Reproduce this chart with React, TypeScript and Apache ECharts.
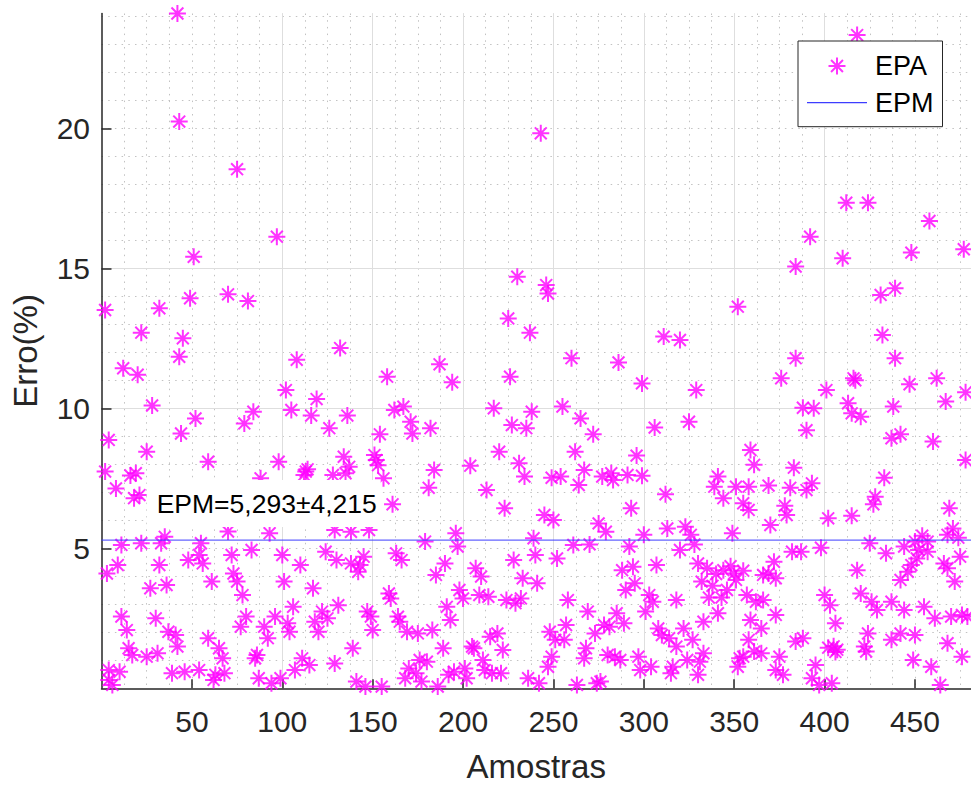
import { useEffect, useRef } from "react";
import * as echarts from "echarts";

// Axis extents and tick labels
const X_MAX = 481;
const Y_MAX = 24.1;
const X_TICKS = [50, 100, 150, 200, 250, 300, 350, 400, 450];
const Y_TICKS = [5, 10, 15, 20];

// Mean percentage error (EPM) and its standard deviation
const EPM_MEDIA = 5.293;
const EPM_DESVIO = 4.215;

// Percentage error per sample (EPA): [sample, error %]
const epa1a50: [number, number][] = [
  [2, 13.51], [2, 7.74], [3, 4.1], [4, 8.87], [4, 0.65], [4, 0.3], [6, 0.12], [8, 7.14], [9, 4.4], [10, 0.59],
  [11, 5.12], [11, 2.56], [12, 11.43], [14, 2.08], [15, 1.43], [16, 7.6], [17, 1.19], [18, 6.79], [19, 7.68], [20, 11.2],
  [21, 6.9], [22, 5.18], [22, 12.7], [25, 8.45], [25, 1.13], [27, 3.57], [28, 10.1], [30, 2.5], [31, 1.25], [32, 13.57],
  [32, 4.4], [33, 5.18], [35, 5.41], [36, 3.69], [37, 2.02], [39, 0.54], [41, 1.9], [42, 1.49], [42, 24.1], [43, 20.24],
  [43, 11.84], [44, 9.1], [45, 12.5], [46, 0.59], [48, 4.58], [49, 13.93],
];
const epa51a100: [number, number][] = [
  [51, 15.41], [52, 9.64], [54, 4.76], [54, 0.65], [55, 5.18], [56, 4.46], [59, 8.09], [59, 1.79], [61, 3.81], [62, 0.3],
  [63, 0.48], [65, 1.43], [67, 1.07], [68, 0.54], [70, 14.07], [70, 5.6], [72, 4.76], [73, 4.1], [75, 3.81], [75, 18.54],
  [77, 2.2], [78, 3.33], [79, 9.46], [80, 2.56], [81, 13.83], [83, 4.94], [84, 9.88], [85, 1.07], [86, 1.19], [87, 0.36],
  [88, 7.5], [90, 2.2], [92, 1.79], [93, 5.54], [94, 0.18], [96, 2.56], [97, 16.13], [98, 8.09], [99, 0.36], [100, 4.76],
];
const epa101a150: [number, number][] = [
  [101, 3.81], [102, 10.65], [103, 2.32], [104, 2.02], [105, 9.94], [106, 2.91], [107, 0.65], [108, 11.73], [110, 4.4], [111, 1.07],
  [112, 7.62], [113, 7.74], [114, 7.82], [115, 0.83], [116, 9.74], [117, 3.57], [118, 2.38], [119, 10.33], [120, 2.02], [122, 2.74],
  [124, 4.88], [125, 2.5], [126, 9.29], [128, 7.62], [129, 5.65], [129, 0.89], [130, 4.58], [131, 2.97], [132, 12.15], [134, 8.27],
  [135, 7.68], [136, 9.74], [137, 7.91], [138, 4.46], [138, 5.59], [139, 1.43], [141, 0.24], [142, 4.16], [143, 4.4], [145, 4.7],
  [146, 0.06], [147, 2.74], [148, 5.65], [149, 2.56], [150, 2.08],
];
const epa151a200: [number, number][] = [
  [151, 8.33], [152, 8.15], [153, 7.97], [154, 9.07], [155, 0.06], [156, 7.5], [158, 11.13], [159, 3.39], [160, 3.21], [161, 6.57],
  [162, 9.94], [163, 4.82], [164, 2.56], [165, 2.38], [166, 4.58], [167, 10.06], [168, 0.36], [169, 2.02], [170, 0.71], [171, 9.52],
  [172, 9.1], [174, 0.54], [175, 1.96], [176, 1.01], [177, 0.24], [179, 5.24], [180, 0.95], [181, 7.16], [182, 9.29], [183, 2.08],
  [184, 7.8], [185, 4.05], [186, 0.06], [187, 11.57], [189, 1.43], [190, 4.46], [191, 2.91], [192, 0.48], [193, 2.44], [194, 10.93],
  [195, 0.59], [196, 5.54], [197, 5.06], [198, 3.51], [200, 3.21],
];
const epa201a250: [number, number][] = [
  [201, 0.71], [202, 0.36], [204, 7.95], [205, 1.49], [206, 1.43], [207, 4.29], [209, 3.33], [210, 3.99], [211, 1.01], [212, 0.65],
  [213, 7.08], [214, 3.27], [215, 1.84], [216, 0.54], [217, 10.0], [219, 1.96], [220, 8.45], [221, 0.54], [222, 1.37], [223, 6.43],
  [224, 3.15], [225, 13.21], [226, 11.13], [227, 9.4], [228, 4.58], [229, 3.04], [230, 14.7], [231, 8.04], [232, 3.21], [233, 3.93],
  [234, 7.56], [235, 9.29], [236, 0.36], [237, 12.7], [238, 9.88], [239, 5.36], [240, 4.76], [241, 3.75], [242, 0.18], [243, 19.82],
  [245, 6.19], [246, 14.4], [247, 14.1], [247, 0.77], [248, 2.02], [249, 7.52], [249, 1.13], [250, 6.01],
];
const epa251a300: [number, number][] = [
  [251, 1.73], [252, 4.64], [254, 7.56], [255, 10.06], [256, 1.73], [257, 2.26], [258, 3.15], [260, 11.79], [261, 5.12], [262, 8.45],
  [263, 0.12], [264, 7.26], [265, 9.64], [267, 7.8], [267, 1.07], [268, 1.43], [269, 2.74], [270, 5.14], [272, 9.07], [273, 1.96],
  [274, 0.18], [275, 5.89], [276, 0.24], [277, 7.56], [278, 2.26], [279, 5.59], [280, 1.19], [281, 2.2], [282, 7.68], [283, 7.44],
  [284, 1.13], [285, 2.68], [286, 11.64], [287, 1.01], [288, 4.22], [289, 2.32], [290, 3.51], [291, 7.62], [292, 5.06], [293, 6.43],
  [294, 4.34], [295, 3.75], [296, 8.31], [297, 1.13], [298, 0.65], [299, 10.89], [299, 7.59], [300, 5.48],
];
const epa301a360: [number, number][] = [
  [301, 2.74], [303, 3.33], [304, 0.77], [305, 3.09], [306, 9.31], [307, 4.4], [308, 2.14], [310, 1.9], [311, 12.56], [312, 6.93],
  [313, 5.71], [314, 1.79], [315, 0.54], [316, 0.77], [318, 3.15], [318, 1.49], [320, 4.94], [320, 12.44], [322, 2.14], [323, 5.77],
  [324, 1.01], [325, 9.52], [326, 5.48], [327, 1.73], [328, 5.14], [329, 10.65], [330, 4.46], [330, 0.48], [331, 0.95], [332, 3.81],
  [333, 2.38], [333, 1.25], [335, 4.29], [336, 3.24], [338, 3.66], [339, 7.2], [340, 4.08], [341, 7.56], [341, 2.68], [343, 3.24],
  [344, 6.79], [344, 4.22], [346, 3.51], [348, 4.36], [349, 5.54], [350, 4.1], [351, 3.87], [351, 7.2], [352, 13.63], [352, 0.77],
  [353, 1.07], [355, 6.61], [355, 4.2], [355, 1.13], [357, 3.33], [358, 7.2], [358, 6.37], [358, 1.73], [359, 2.44], [359, 8.51],
  [361, 7.98], [361, 1.31],
];
const epa361a420: [number, number][] = [
  [362, 3.09], [365, 2.14], [365, 1.25], [366, 3.15], [366, 4.05], [369, 7.24], [369, 4.1], [370, 5.83], [372, 4.52], [373, 3.93],
  [373, 2.62], [373, 0.65], [375, 1.13], [376, 11.07], [377, 0.48], [378, 6.52], [379, 6.19], [381, 7.16], [382, 4.88], [383, 7.88],
  [384, 11.79], [384, 15.06], [384, 1.67], [387, 4.88], [388, 1.79], [388, 10.02], [390, 7.08], [390, 9.22], [392, 16.13], [393, 7.32],
  [393, 0.36], [394, 10.0], [395, 0.83], [397, 0.12], [398, 5.02], [400, 3.33], [401, 10.65], [402, 6.07], [402, 1.45], [403, 2.97],
  [404, 0.18], [405, 1.5], [406, 1.3], [406, 2.32], [407, 1.38], [410, 15.36], [412, 17.34], [413, 10.18], [415, 9.82], [415, 6.16],
  [416, 11.07], [417, 11.0], [418, 4.22], [418, 23.33], [420, 3.39],
];
const epa421a481: [number, number][] = [
  [420, 9.7], [422, 1.49], [423, 1.31], [424, 17.34], [424, 1.96], [425, 5.18], [426, 3.09], [427, 6.57], [428, 6.84], [429, 2.8],
  [431, 14.05], [432, 12.62], [433, 7.52], [434, 4.82], [437, 3.09], [437, 1.73], [437, 8.93], [438, 10.06], [439, 14.29], [439, 11.79],
  [442, 3.87], [442, 9.07], [442, 1.96], [444, 5.06], [444, 2.8], [446, 4.16], [447, 10.86], [448, 4.4], [448, 15.56], [449, 1.01],
  [450, 5.24], [450, 1.9], [451, 4.64], [452, 4.94], [454, 5.45], [455, 2.91], [457, 5.24], [457, 4.88], [458, 16.69], [459, 0.77],
  [460, 8.81], [461, 2.5], [462, 11.07], [464, 0.12], [466, 4.46], [467, 10.24], [468, 1.61], [468, 5.48], [468, 4.29], [469, 6.43],
  [470, 2.56], [471, 5.71], [472, 3.81], [474, 5.38], [475, 4.7], [476, 2.62], [476, 1.13], [477, 15.68], [478, 8.15], [478, 10.57],
  [479, 2.56],
];

const EPA = [
  ...epa1a50, ...epa51a100, ...epa101a150, ...epa151a200, ...epa201a250,
  ...epa251a300, ...epa301a360, ...epa361a420, ...epa421a481,
];

const FONT = "'Liberation Sans', Arial, Helvetica, sans-serif";
const INK = "#262626";
const MAGENTA = "#ff00ff";
const AZUL = "#3d3dff";
// 8-spoke asterisk marker
const ASTERISCO = "path://M0,-10L0,10M-10,0L10,0M-7,-7L7,7M-7,7L7,-7";
// Thin bar used as the legend key of the mean line
const TRACO = "path://M0,0L60,0L60,1.2L0,1.2Z";

const fmt = (v: number) => v.toFixed(3).replace(".", ",");

export default function App() {
  const ref = useRef<HTMLDivElement>(null);

  useEffect(() => {
    document.body.style.margin = "0";
    const chart = echarts.init(ref.current!, undefined, { renderer: "svg" });

    const majorLine = { show: true, showMinLine: false, showMaxLine: false, lineStyle: { color: "#dedede", width: 1 } };
    const minorLine = {
      show: true, showMinLine: false, showMaxLine: false,
      lineStyle: { color: "#c2c2c2", width: 1, type: [1.5, 5.2] },
    };
    const hidden = { axisLine: { show: false }, axisTick: { show: false }, axisLabel: { show: false } };

    chart.setOption({
      animation: false,
      backgroundColor: "#ffffff",
      grid: { left: 101.5, right: 0, top: 13.5, bottom: 96.7, containLabel: false, outerBoundsMode: "none" },
      xAxis: [
        {
          type: "value", min: 0, max: X_MAX, interval: 50, z: 1,
          name: "Amostras", nameLocation: "middle", nameGap: 62,
          nameTextStyle: { fontFamily: FONT, fontSize: 33, lineHeight: 33, color: INK },
          axisLine: { show: true, onZero: false, lineStyle: { color: INK, width: 1.5 } },
          axisTick: { show: true, inside: true, length: 9, customValues: X_TICKS, lineStyle: { color: INK, width: 1.5 } },
          axisLabel: { customValues: X_TICKS, margin: 18, fontFamily: FONT, fontSize: 30, color: INK },
          splitLine: majorLine,
        },
        { type: "value", min: 0, max: X_MAX, interval: 12.5, z: 0, ...hidden, splitLine: minorLine },
      ],
      yAxis: [
        {
          type: "value", min: 0, max: Y_MAX, interval: 5, z: 1,
          name: "Erro(%)", nameLocation: "middle", nameGap: 60,
          nameTextStyle: { fontFamily: FONT, fontSize: 33, color: INK },
          axisLine: { show: true, onZero: false, lineStyle: { color: INK, width: 1.5 } },
          axisTick: { show: true, inside: true, length: 10, customValues: Y_TICKS, lineStyle: { color: INK, width: 1.5 } },
          axisLabel: { customValues: Y_TICKS, margin: 11.5, fontFamily: FONT, fontSize: 30, color: INK },
          splitLine: majorLine,
        },
        { type: "value", min: 0, max: Y_MAX, interval: 1, z: 0, ...hidden, splitLine: minorLine },
      ],
      legend: {
        orient: "vertical", left: 798, top: 41,
        itemWidth: 60, itemHeight: 17, itemGap: 6.7,
        padding: [10, 9, 9, 9],
        borderColor: INK, borderWidth: 1, backgroundColor: "#ffffff",
        selectedMode: false, z: 6,
        textStyle: { fontFamily: FONT, fontSize: 27, lineHeight: 30, color: "#000", padding: [0, 0, 0, 3] },
        data: [
          { name: "EPA", icon: ASTERISCO, itemStyle: { color: MAGENTA, borderColor: MAGENTA, borderWidth: 2 } },
          { name: "EPM", icon: TRACO, itemStyle: { color: AZUL, borderWidth: 0 } },
        ],
      },
      series: [
        {
          name: "EPA", type: "scatter", data: EPA, xAxisIndex: 0, yAxisIndex: 0,
          symbol: ASTERISCO, symbolSize: 17, clip: false, z: 2,
          itemStyle: { color: MAGENTA, borderColor: MAGENTA, borderWidth: 2 },
        },
        {
          name: "EPM", type: "line", xAxisIndex: 0, yAxisIndex: 0,
          data: [[0, EPM_MEDIA], [X_MAX, EPM_MEDIA]],
          symbol: "none", silent: true, z: 3,
          itemStyle: { color: AZUL },
          lineStyle: { color: AZUL, width: 1 },
        },
      ],
    });

    // Annotation box anchored in data coordinates
    const [ax, ay] = chart.convertToPixel({ gridIndex: 0 }, [25, 6.6]) as number[];
    chart.setOption({
      graphic: [
        {
          type: "rect", z: 20,
          shape: { x: ax, y: ay - 23.5, width: 234, height: 47 },
          style: { fill: "#ffffff" },
        },
        {
          type: "text", z: 21, x: ax + 10, y: ay,
          style: {
            text: `EPM=${fmt(EPM_MEDIA)}±${fmt(EPM_DESVIO)}`,
            fontFamily: FONT, fontSize: 26.5, fill: "#000",
            align: "left", verticalAlign: "middle",
          },
        },
      ],
    });

    return () => chart.dispose();
  }, []);

  return <div ref={ref} style={{ width: 971, height: 785 }} />;
}
